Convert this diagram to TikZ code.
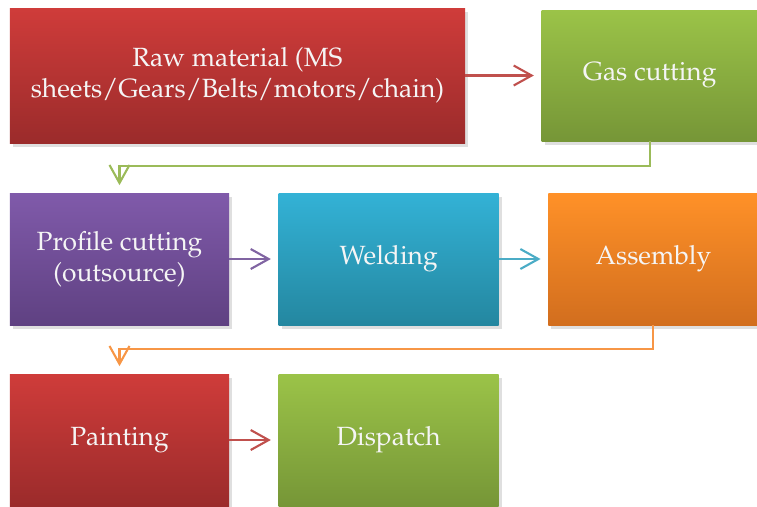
\documentclass[tikz,border=0pt]{standalone}
\usepackage[T1]{fontenc}
\usepackage{mathpazo}
\usetikzlibrary{positioning,arrows.meta,shadows}

\definecolor{redtop}{HTML}{CF3C3A}
\definecolor{redbot}{HTML}{9B2B2B}
\definecolor{greentop}{HTML}{9BC348}
\definecolor{greenbot}{HTML}{769637}
\definecolor{purpletop}{HTML}{805AAA}
\definecolor{purplebot}{HTML}{5F4182}
\definecolor{bluetop}{HTML}{33B2D6}
\definecolor{bluebot}{HTML}{2487A0}
\definecolor{orangetop}{HTML}{FF9128}
\definecolor{orangebot}{HTML}{D26E1E}
\definecolor{redline}{HTML}{C0504D}
\definecolor{greenline}{HTML}{9BBB59}
\definecolor{purpleline}{HTML}{8064A2}
\definecolor{blueline}{HTML}{4BACC6}
\definecolor{orangeline}{HTML}{F79646}

\begin{document}
\begin{tikzpicture}[
        node distance=1.0cm and 0.98cm,
        box/.style={rectangle, minimum width=4.38cm, minimum height=2.64cm, align=center,
            text=white!96!black, font=\fontsize{15}{17.5}\selectfont,
            drop shadow={shadow xshift=0.06cm, shadow yshift=-0.07cm, opacity=0.25}},
        redbox/.style={box, top color=redtop, bottom color=redbot},
        greenbox/.style={box, top color=greentop, bottom color=greenbot},
        purplebox/.style={box, top color=purpletop, bottom color=purplebot},
        bluebox/.style={box, top color=bluetop, bottom color=bluebot},
        orangebox/.style={box, top color=orangetop, bottom color=orangebot},
        arr/.style={-{Straight Barb[length=0.36cm, width=0.4cm]}, line width=1.2pt, shorten >=0.15cm},
    ]
    \useasboundingbox (0,0) rectangle (15.14,-10.12);
    \clip (0,0) rectangle (15.14,-10.12);

    % === Row 1 ===
    \node[redbox, minimum width=9.1cm, minimum height=2.7cm] (raw) at (4.75,-1.51) {Raw material (MS\\sheets/Gears/Belts/motors/chain)};
    \node[greenbox, minimum width=4.32cm, minimum height=2.62cm, right=1.52cm of raw] (gas) {Gas cutting};

    \draw[arr, redline] (raw) -- (gas);

    % === Row 2 ===
    \node[purplebox] (profile) at (2.39,-5.18) {Profile cutting\\(outsource)};
    \node[bluebox, minimum width=4.4cm, right=of profile] (weld) {Welding};
    \node[orangebox, minimum width=4.2cm, right=of weld] (assembly) {Assembly};

    \draw[arr, greenline] (gas.south) -- ++(0,-0.5) -| (profile.north);
    \draw[arr, purpleline] (profile) -- (weld);
    \draw[arr, blueline] (weld) -- (assembly);

    % === Row 3 ===
    \node[redbox] (paint) at (2.39,-8.8) {Painting};
    \node[greenbox, minimum width=4.4cm, right=of paint] (dispatch) {Dispatch};

    \draw[arr, orangeline] (assembly.south) -- ++(0,-0.48) -| (paint.north);
    \draw[arr, redline] (paint) -- (dispatch);

\end{tikzpicture}
\end{document}
